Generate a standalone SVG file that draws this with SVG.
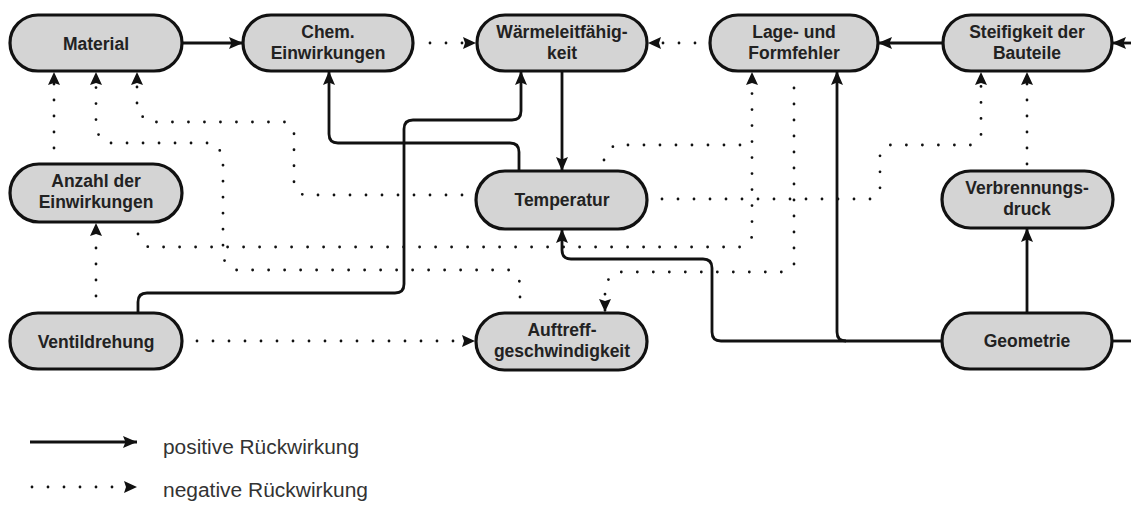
<svg xmlns="http://www.w3.org/2000/svg" width="1131" height="506" viewBox="0 0 1131 506">
  <style>
    .node rect { fill: #d4d4d4; stroke: #111; stroke-width: 3.2; }
    .node text { font-family: "Liberation Sans", Arial, sans-serif; font-weight: bold; font-size: 17.5px; fill: #222; text-anchor: middle; }
    .pos { fill: none; stroke: #111; stroke-width: 2.8; stroke-linejoin: round; }
    .neg { fill: none; stroke: #111; stroke-width: 2.8; stroke-linecap: round; stroke-dasharray: 0 16; }
    .legend text { font-family: "Liberation Sans", Arial, sans-serif; font-size: 20px; fill: #333; }
  </style>
  <defs>
    <marker id="arrow" markerUnits="userSpaceOnUse" markerWidth="15" markerHeight="13" refX="14" refY="6.5" orient="auto">
      <path d="M0,0.5 L14,6.5 L0,12.5 L2.5,6.5 z" fill="#111"/>
    </marker>
    <marker id="arrow-dot" markerUnits="userSpaceOnUse" markerWidth="14" markerHeight="13" refX="13" refY="6.5" orient="auto">
      <path d="M0,0.5 L13,6.5 L0,12.5 L2,6.5 z" fill="#111"/>
    </marker>
  </defs>

  <rect width="1131" height="506" fill="#fff"/>

  <g id="connectors">
    <!-- positive effects -->
    <path class="pos" d="M182,43 H243" marker-end="url(#arrow)"/>
    <path class="pos" d="M943,43 H878" marker-end="url(#arrow)"/>
    <path class="pos" d="M1131,43 H1112" marker-end="url(#arrow)"/>
    <path class="pos" d="M1112,341 H1131"/>
    <path class="pos" d="M562,71 V171" marker-end="url(#arrow)"/>
    <path class="pos" d="M519,171 V152 Q519,143 510,143 H338 Q329,143 329,134 V71" marker-end="url(#arrow)"/>
    <path class="pos" d="M138,313 V302 Q138,293 147,293 H395 Q404,293 404,284 V129 Q404,120 413,120 H512 Q521,120 521,111 V71" marker-end="url(#arrow)"/>
    <path class="pos" d="M942,341 H721 Q712,341 712,332 V268 Q712,259 703,259 H571 Q562,259 562,250 V229" marker-end="url(#arrow)"/>
    <path class="pos" d="M846,341 Q837,341 837,332 V71" marker-end="url(#arrow)"/>
    <path class="pos" d="M1027,313 V228" marker-end="url(#arrow)"/>

    <!-- negative effects -->
    <path class="neg" d="M54,148 V72" marker-end="url(#arrow-dot)"/>
    <path class="neg" d="M520,297 V282 L510,270 H234 L223,259 V154 L213,143 H107 L96,132 V72" marker-end="url(#arrow-dot)"/>
    <path class="neg" d="M462,195 H303 L294,186 V131 L285,122 H148 L137,111 V72" marker-end="url(#arrow-dot)"/>
    <path class="neg" d="M96,296 V223" marker-end="url(#arrow-dot)"/>
    <path class="neg" d="M138,234 L148,247 H742 L752,237 V72" marker-end="url(#arrow-dot)"/>
    <path class="neg" d="M604,160 L614,145 H742"/>
    <path class="neg" d="M794,88 V264 L786,272 H616 L605,283 V312" marker-end="url(#arrow-dot)"/>
    <path class="neg" d="M662,199 H872 L880,189 V153 L890,145 H973 L981,135 V72" marker-end="url(#arrow-dot)"/>
    <path class="neg" d="M1027,164 V72" marker-end="url(#arrow-dot)"/>
    <path class="neg" d="M197,341 H475" marker-end="url(#arrow-dot)"/>
    <path class="neg" d="M430,43 H476" marker-end="url(#arrow-dot)"/>
    <path class="neg" d="M695,43 H648" marker-end="url(#arrow-dot)"/>
  </g>

  <g id="n-material" class="node">
    <rect x="10" y="15" width="172" height="56" rx="28"/>
    <text x="96" y="50">Material</text>
  </g>
  <g id="n-chem" class="node">
    <rect x="243" y="15" width="170" height="56" rx="28"/>
    <text x="328" y="38">Chem.</text>
    <text x="328" y="59">Einwirkungen</text>
  </g>
  <g id="n-waerme" class="node">
    <rect x="477" y="15" width="170" height="56" rx="28"/>
    <text x="562" y="38">Wärmeleitfähig-</text>
    <text x="562" y="59">keit</text>
  </g>
  <g id="n-lage" class="node">
    <rect x="710" y="15" width="168" height="56" rx="28"/>
    <text x="794" y="38">Lage- und</text>
    <text x="794" y="59">Formfehler</text>
  </g>
  <g id="n-steif" class="node">
    <rect x="943" y="15" width="169" height="56" rx="28"/>
    <text x="1027" y="38">Steifigkeit der</text>
    <text x="1027" y="59">Bauteile</text>
  </g>
  <g id="n-anzahl" class="node">
    <rect x="10" y="164" width="172" height="58" rx="29"/>
    <text x="96" y="187">Anzahl der</text>
    <text x="96" y="208">Einwirkungen</text>
  </g>
  <g id="n-temp" class="node">
    <rect x="476" y="171" width="171" height="58" rx="29"/>
    <text x="562" y="206">Temperatur</text>
  </g>
  <g id="n-verbr" class="node">
    <rect x="942" y="171" width="171" height="57" rx="28.5"/>
    <text x="1027" y="194">Verbrennungs-</text>
    <text x="1027" y="215">druck</text>
  </g>
  <g id="n-ventil" class="node">
    <rect x="10" y="313" width="172" height="56" rx="28"/>
    <text x="96" y="348">Ventildrehung</text>
  </g>
  <g id="n-auftreff" class="node">
    <rect x="476" y="313" width="171" height="57" rx="28.5"/>
    <text x="562" y="336">Auftreff-</text>
    <text x="562" y="357">geschwindigkeit</text>
  </g>
  <g id="n-geo" class="node">
    <rect x="942" y="313" width="170" height="56" rx="28"/>
    <text x="1027" y="347">Geometrie</text>
  </g>

  <g id="legend" class="legend">
    <path class="pos" d="M30,442 H137" marker-end="url(#arrow)"/>
    <text x="163" y="454" textLength="196" lengthAdjust="spacingAndGlyphs">positive Rückwirkung</text>
    <path class="neg" d="M32,487 H137" marker-end="url(#arrow-dot)"/>
    <text x="163" y="497" textLength="205" lengthAdjust="spacingAndGlyphs">negative Rückwirkung</text>
  </g>
</svg>
